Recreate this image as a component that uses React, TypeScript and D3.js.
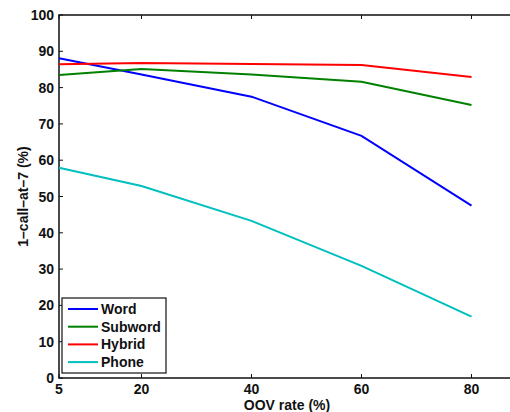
import React, { useEffect, useRef } from "react";
import * as d3 from "d3";

const oovRates = [5, 20, 40, 60, 80];
const seriesNames = ["Word", "Subword", "Hybrid", "Phone"];
const wordValues = [88.1, 83.6, 77.5, 66.7, 47.5];
const subwordValues = [83.5, 85.1, 83.6, 81.6, 75.2];
const hybridValues = [86.4, 86.8, 86.5, 86.2, 82.9];
const phoneValues = [57.9, 52.9, 43.3, 30.9, 16.9];
const xTicks = [5, 20, 40, 60, 80];
const yTicks = [0, 10, 20, 30, 40, 50, 60, 70, 80, 90, 100];
const colors = ["#0000ff", "#008000", "#ff0000", "#00bfbf"];

function App() {
    const svgRef = useRef<SVGSVGElement>(null);

    useEffect(() => {
        const width = 540;
        const height = 412;
        const marginTop = 15;
        const marginBottom = 34;
        const marginLeft = 59;

        const svg = d3.select(svgRef.current)
            .attr("width", width)
            .attr("height", height);
        svg.selectAll("*").remove();

        const font = "'Liberation Sans', Arial, Helvetica, sans-serif";

        // x axis runs on past the right edge of the picture
        const xScale = d3.scaleLinear()
            .domain([5, 90])
            .range([marginLeft, marginLeft + 85 * 5.5]);

        const yScale = d3.scaleLinear()
            .domain([0, 100])
            .range([height - marginBottom, marginTop]);

        const x0 = xScale(5), x1 = xScale(90);
        const y0 = yScale(0), y1 = yScale(100);

        // box
        svg.append("rect")
            .attr("x", x0).attr("y", y1)
            .attr("width", x1 - x0).attr("height", y0 - y1)
            .attr("fill", "white")
            .attr("stroke", "#111")
            .attr("stroke-width", 1.5);

        // ticks (inside, MATLAB style)
        const tickLen = 4;
        xTicks.forEach(t => {
            [[y0, y0 - tickLen], [y1, y1 + tickLen]].forEach(([a, b]) => {
                svg.append("line")
                    .attr("x1", xScale(t)).attr("x2", xScale(t))
                    .attr("y1", a).attr("y2", b)
                    .attr("stroke", "#111").attr("stroke-width", 1);
            });
            svg.append("text")
                .attr("x", xScale(t)).attr("y", y0 + 16)
                .attr("text-anchor", "middle")
                .attr("font-family", font).attr("font-weight", "bold")
                .attr("font-size", 14).attr("fill", "#111")
                .text(t);
        });
        yTicks.forEach(t => {
            svg.append("line")
                .attr("x1", x0).attr("x2", x0 + tickLen)
                .attr("y1", yScale(t)).attr("y2", yScale(t))
                .attr("stroke", "#111").attr("stroke-width", 1);
            svg.append("text")
                .attr("x", x0 - 5).attr("y", yScale(t) + 5)
                .attr("text-anchor", "end")
                .attr("font-family", font).attr("font-weight", "bold")
                .attr("font-size", 14).attr("fill", "#111")
                .text(t);
        });

        // lines
        const allSeries = [wordValues, subwordValues, hybridValues, phoneValues];
        const line = d3.line<number>()
            .x((_, i) => xScale(oovRates[i]))
            .y(d => yScale(d));
        allSeries.forEach((vals, i) => {
            svg.append("path")
                .datum(vals)
                .attr("d", line)
                .attr("fill", "none")
                .attr("stroke", colors[i])
                .attr("stroke-width", 2);
        });

        // axis labels
        svg.append("text")
            .attr("x", 287).attr("y", 410)
            .attr("text-anchor", "middle")
            .attr("font-family", font).attr("font-weight", "bold")
            .attr("font-size", 14).attr("fill", "#111")
            .text("OOV rate (%)");
        svg.append("text")
            .attr("transform", `translate(28,${(y0 + y1) / 2}) rotate(-90)`)
            .attr("text-anchor", "middle")
            .attr("font-family", font).attr("font-weight", "bold")
            .attr("font-size", 14).attr("fill", "#111")
            .text("1\u2013call\u2013at\u20137 (%)");

        // legend
        const lg = svg.append("g");
        lg.append("rect")
            .attr("x", 62).attr("y", 298)
            .attr("width", 104).attr("height", 75)
            .attr("fill", "white")
            .attr("stroke", "#111").attr("stroke-width", 1.2);
        seriesNames.forEach((name, i) => {
            const y = 309 + i * 17.7;
            lg.append("line")
                .attr("x1", 68).attr("x2", 98)
                .attr("y1", y).attr("y2", y)
                .attr("stroke", colors[i]).attr("stroke-width", 2);
            lg.append("text")
                .attr("x", 101).attr("y", y + 5)
                .attr("font-family", font).attr("font-weight", "bold")
                .attr("font-size", 14).attr("fill", "#111")
                .text(name);
        });
    }, []);

    return (
        <div style={{ position: "absolute", left: 0, top: 0, width: 510, height: 412, overflow: "hidden", background: "white" }}>
            <svg ref={svgRef} style={{ display: "block" }}></svg>
        </div>
    );
}

export default App;
